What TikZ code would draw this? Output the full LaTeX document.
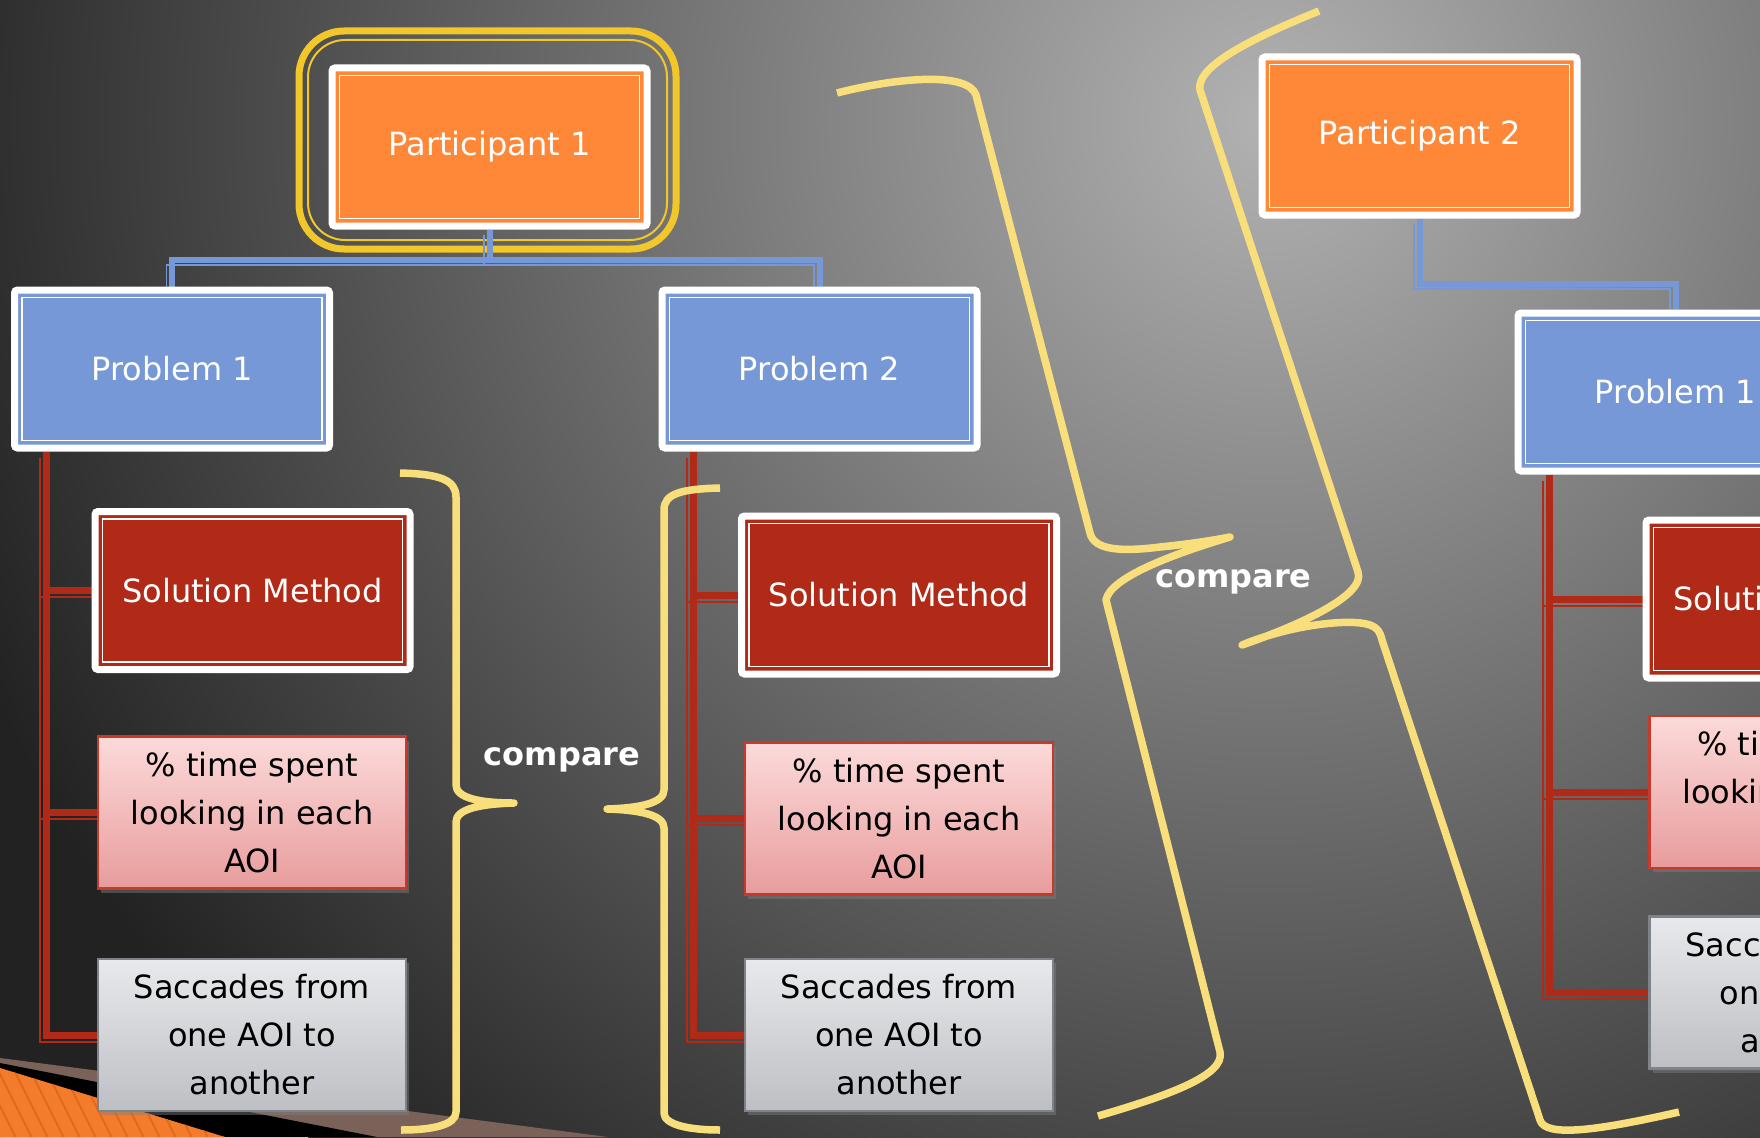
\documentclass[tikz,border=0pt]{standalone}
\usepackage{fontspec}
\setmainfont{DejaVu Sans}
\usepackage{tikz}
\usetikzlibrary{calc}
\usetikzlibrary{backgrounds}
\usetikzlibrary{shadows}
\definecolor{boxorange}{HTML}{FF8838}
\definecolor{boxblue}{HTML}{7698D6}
\definecolor{boxred}{HTML}{B02A17}
\definecolor{pinktop}{HTML}{FCDADA}
\definecolor{pinkbot}{HTML}{E89C9C}
\definecolor{pinkline}{HTML}{C63A2C}
\definecolor{greytop}{HTML}{E8E9EC}
\definecolor{greybot}{HTML}{BDBFC4}
\definecolor{greyline}{HTML}{7E838A}
\definecolor{bracecol}{HTML}{F9DF7C}
\definecolor{goldcol}{HTML}{F2C72A}
\definecolor{bglight}{HTML}{B2B2B2}
\definecolor{bgdark}{HTML}{222222}
\definecolor{bandbrown}{HTML}{7A6258}
\definecolor{bandorange}{HTML}{F37B2B}
\definecolor{stripecol}{HTML}{E0691C}
\tikzset{
   whitebox/.style={
      draw=white, line width=7pt, fill=#1,
      rounded corners=3pt, inner sep=0pt,
      minimum width=315pt, minimum height=158pt,
      text=white, font=\fontsize{32}{38}\selectfont,
      path picture={\draw[white, line width=1.5pt, sharp corners]
         ([shift={(7.5pt,-7.5pt)}]path picture bounding box.north west) rectangle
         ([shift={(-7.5pt,7.5pt)}]path picture bounding box.south east);}},
   pinkbox/.style={
      draw=pinkline, line width=2.5pt, top color=pinktop, bottom color=pinkbot,
      inner sep=0pt, minimum width=308pt, minimum height=152pt,
      align=center, text=black, font=\fontsize{32}{48}\selectfont,
      drop shadow={shadow xshift=3pt, shadow yshift=-4pt, opacity=0.45}},
   greybox/.style={
      pinkbox, draw=greyline, top color=greytop, bottom color=greybot},
   blueconn/.style={
      draw=boxblue, line width=6pt,
      postaction={draw=boxblue, line width=1.5pt,
         transform canvas={xshift=-5.5pt, yshift=-5.5pt}}},
   redconn/.style={
      draw=boxred, line width=7pt,
      postaction={draw=boxred, line width=2pt,
         transform canvas={xshift=-6.5pt, yshift=-6.5pt}}},
   yellowbrace/.style={draw=bracecol, line width=7.5pt, line join=round},
   goldring/.style={draw=goldcol},
   comparetext/.style={text=white, font=\bfseries\fontsize{32}{38}\selectfont},
}
\begin{document}
\begin{tikzpicture}[x=1pt, y=-1pt]
   \useasboundingbox (0,0) rectangle (1760,1137);

   \node[whitebox=boxorange] (part1) at (489.5,147) {Participant 1};
   \node[whitebox=boxblue] (prob1) at (172,369) {Problem 1};
   \node[whitebox=boxblue] (prob2) at (819.5,369) {Problem 2};
   \node[whitebox=boxred] (sol1) at (252.5,590.5) {Solution Method};
   \node[whitebox=boxred] (sol2) at (899,595) {Solution Method};
   \node[pinkbox] (pct1) at (252,812.5) {\% time spent\\looking in each\\AOI};
   \node[pinkbox] (pct2) at (899,818.5) {\% time spent\\looking in each\\AOI};
   \node[greybox] (sac1) at (252,1035) {Saccades from\\one AOI to\\another};
   \node[greybox] (sac2) at (899,1035) {Saccades from\\one AOI to\\another};

   \node[whitebox=boxorange] (part2) at (1419.5,136) {Participant 2};
   \node[whitebox=boxblue] (prob3) at (1675.5,392) {Problem 1};
   \node[whitebox=boxred] (sol3) at (1803.5,599) {Solution Method};
   \node[pinkbox] (pct3) at (1803.5,792) {\% time spent\\looking in each\\AOI};
   \node[greybox] (sac3) at (1803.5,992.5) {Saccades from\\one AOI to\\another};

   \node[comparetext] (cmp1) at (562,760) {compare};
   \node[comparetext] (cmp2) at (1233.5,581.5) {compare};

   \begin{scope}[on background layer]
      \begin{scope}
         \clip (0,0) rectangle (1760,1137);
         \fill[bgdark] (0,0) rectangle (1760,1137);
         \shade[inner color=bglight, outer color=bgdark] (1270,120) circle (1400pt);
         \fill[bandbrown] (0,1058) -- (608,1137) -- (0,1137) -- cycle;
         \fill[black] (0,1063) -- (377,1137) -- (0,1137) -- cycle;
         \fill[bandorange] (0,1068) -- (225,1137) -- (0,1137) -- cycle;
         \clip (0,1068) -- (225,1137) -- (0,1137) -- cycle;
         \foreach \i in {0,...,16}
            \draw[stripecol, line width=2pt] ({\i*16-60},1050) -- ++(50,100);
      \end{scope}

      \draw[goldring, line width=7pt, rounded corners=45pt]
         ([shift={(-29.5,-33.5)}]part1.north west) rectangle ([shift={(25.5,19.5)}]part1.south east);
      \draw[goldring, line width=2pt, rounded corners=37pt]
         ([shift={(-20.5,-24.5)}]part1.north west) rectangle ([shift={(16.5,10.5)}]part1.south east);

      \coordinate (j1) at ([yshift=-30pt]part1.south);
      \draw[blueconn] (part1.south) -- (j1) -| (prob1.north);
      \draw[blueconn] (j1) -| (prob2.north);
      \coordinate (j2) at ([yshift=-65pt]part2.south);
      \draw[blueconn] (part2.south) -- (j2) -| (prob3.north);

      \coordinate (r1) at ([xshift=35pt]prob1.south west);
      \coordinate (r2) at ([xshift=35pt]prob2.south west);
      \coordinate (r3) at ([xshift=35pt]prob3.south west);
      \draw[redconn] (r1) |- ([xshift=8pt]sol1.west);
      \draw[redconn] (r1) |- ([xshift=8pt]pct1.west);
      \draw[redconn] (r1) |- ([xshift=8pt]sac1.west);
      \draw[redconn] (r2) |- ([xshift=8pt]sol2.west);
      \draw[redconn] (r2) |- ([xshift=8pt]pct2.west);
      \draw[redconn] (r2) |- ([xshift=8pt]sac2.west);
      \draw[redconn] (r3) |- ([xshift=8pt]sol3.west);
      \draw[redconn] (r3) |- ([xshift=8pt]pct3.west);
      \draw[redconn] (r3) |- ([xshift=8pt]sac3.west);
   \end{scope}

   \draw[yellowbrace] (400,473) .. controls (440,474) and (456,480) .. (456,497)
      -- (456,785) .. controls (456,798) and (480,803) .. (514,803)
      .. controls (480,804) and (456,809) .. (456,822)
      -- (456,1112) .. controls (456,1125) and (432,1130) .. (401,1130);
   \draw[yellowbrace] (720,488) .. controls (680,489) and (664,494) .. (664,510)
      -- (664,790) .. controls (664,803) and (640,808) .. (607,809)
      .. controls (640,810) and (664,815) .. (664,828)
      -- (664,1113) .. controls (664,1125) and (690,1130) .. (720,1130);
   \draw[yellowbrace] (837,93) .. controls (900,77) and (968,72) .. (976,95)
      -- (1090,533) .. controls (1094,550) and (1120,552) .. (1160,547)
      .. controls (1190,544) and (1215,540) .. (1230,537)
      .. controls (1170,555) and (1110,578) .. (1106,600)
      -- (1220,1052) .. controls (1225,1075) and (1170,1095) .. (1098,1116);
   \draw[yellowbrace] (1319,11) .. controls (1260,35) and (1195,65) .. (1200,90)
      -- (1358,572) .. controls (1366,595) and (1300,625) .. (1242,645)
      .. controls (1290,625) and (1350,618) .. (1370,625)
      .. controls (1378,628) and (1380,632) .. (1382,640)
      -- (1540,1120) .. controls (1545,1138) and (1600,1130) .. (1679,1112);
\end{tikzpicture}
\end{document}
